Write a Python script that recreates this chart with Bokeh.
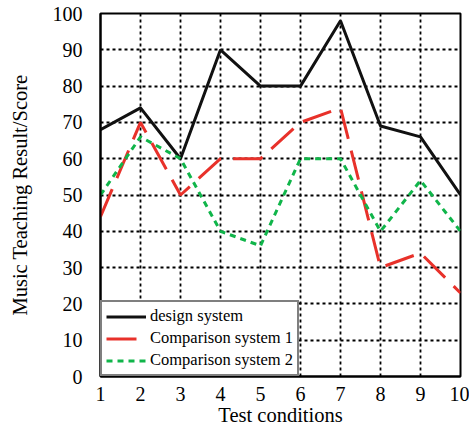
from bokeh.plotting import figure
from bokeh.models import Range1d, FixedTicker, Legend, LegendItem
from bokeh.embed import file_html
from bokeh.resources import INLINE

conditions = [1, 2, 3, 4, 5, 6, 7, 8, 9, 10]
design_system = [68, 74, 60, 90, 80, 80, 98, 69, 66, 50]
comparison_1 = [44, 70, 50, 60, 60, 70, 74, 30, 34, 23]
comparison_2 = [50, 66, 60, 40, 36, 60, 60, 40, 54, 40]
y_ticks = [0, 10, 20, 30, 40, 50, 60, 70, 80, 90, 100]

FONT = "Liberation Serif"

p = figure(width=469, height=428, output_backend="svg", toolbar_location=None,
           x_range=Range1d(1, 10), y_range=Range1d(0, 100),
           min_border_left=100, min_border_right=9, min_border_top=13, min_border_bottom=50)

p.outline_line_color = "black"
p.outline_line_width = 2
p.outline_line_alpha = 1

for ax in (p.xaxis[0], p.yaxis[0]):
    ax.major_tick_line_color = None
    ax.minor_tick_line_color = None
    ax.axis_line_color = "black"
    ax.axis_line_width = 2
    ax.major_label_text_font = FONT
    ax.major_label_text_font_size = "20px"
    ax.major_label_text_color = "black"
    ax.axis_label_text_font = FONT
    ax.axis_label_text_font_size = "20.5px"
    ax.axis_label_text_font_style = "normal"
    ax.axis_label_text_color = "black"

p.xaxis.ticker = FixedTicker(ticks=conditions)
p.yaxis.ticker = FixedTicker(ticks=y_ticks)
p.xaxis.axis_label = "Test conditions"
p.yaxis.axis_label = "Music Teaching Result/Score"
p.xaxis.major_label_standoff = 4
p.yaxis.major_label_standoff = 12
p.xaxis.axis_label_standoff = 0
p.yaxis.axis_label_standoff = 19

p.xgrid.ticker = FixedTicker(ticks=conditions)
p.ygrid.ticker = FixedTicker(ticks=y_ticks)
for g in (p.xgrid[0], p.ygrid[0]):
    g.grid_line_color = "black"
    g.grid_line_width = 1.8
    g.grid_line_dash = "3 3"
    g.grid_line_alpha = 1

r1 = p.line(conditions, design_system, line_color="#111111", line_width=3)
r2 = p.line(conditions, comparison_1, line_color="#e8312a", line_width=3, line_dash="30 12")
r3 = p.line(conditions, comparison_2, line_color="#10b54a", line_width=3, line_dash="6 5")

legend = Legend(items=[LegendItem(label="design system", renderers=[r1]),
                       LegendItem(label="Comparison system 1", renderers=[r2]),
                       LegendItem(label="Comparison system 2", renderers=[r3])],
                location=(0, 0))
legend.border_line_color = "black"
legend.border_line_width = 2
legend.background_fill_color = "white"
legend.background_fill_alpha = 1
legend.label_text_font = FONT
legend.label_text_font_size = "16.5px"
legend.label_text_color = "black"
legend.glyph_width = 40
legend.glyph_height = 19
legend.label_height = 19
legend.label_standoff = 4
legend.spacing = 2
legend.padding = 4
legend.margin = 0
p.add_layout(legend, "center")

open("out.html", "w").write(file_html(p, INLINE))
